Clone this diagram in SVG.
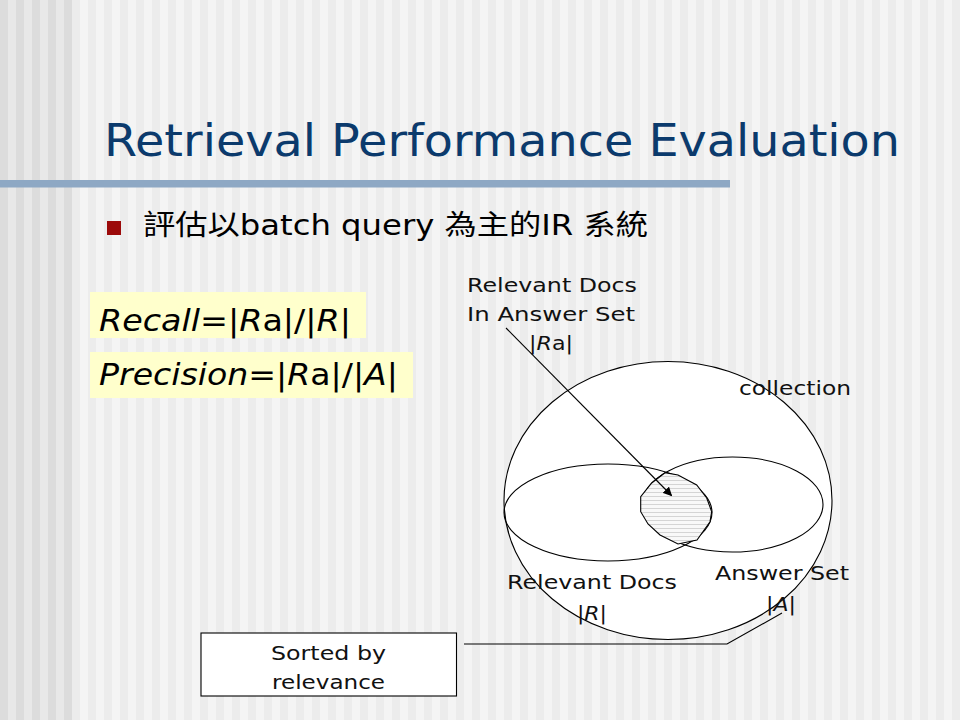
<svg xmlns="http://www.w3.org/2000/svg" width="960" height="720" viewBox="0 0 960 720">
  <defs>
    <pattern id="bgStripes" x="0" y="0" width="16" height="16" patternUnits="userSpaceOnUse">
      <rect x="0" y="0" width="8" height="16" fill="#f4f4f4"/>
      <rect x="8" y="0" width="8" height="16" fill="#ececec"/>
    </pattern>
    <pattern id="leftStripes" x="0" y="0" width="16" height="16" patternUnits="userSpaceOnUse">
      <rect x="0" y="0" width="8" height="16" fill="#dcdcdc"/>
      <rect x="8" y="0" width="8" height="16" fill="#e8e8e8"/>
    </pattern>
    <pattern id="hatch" x="0" y="0" width="6" height="4" patternUnits="userSpaceOnUse">
      <rect x="0" y="0" width="6" height="4" fill="#f8f8f8"/>
      <rect x="0" y="0" width="6" height="1" fill="#d4d4d4"/>
    </pattern>
    <marker id="arrow" viewBox="0 0 10 10" refX="9" refY="5" markerWidth="9" markerHeight="9" markerUnits="userSpaceOnUse" orient="auto">
      <path d="M0,0 L10,5 L0,10 Z" fill="#000000"/>
    </marker>
    <style>
      .sans { font-family: "DejaVu Sans", "Noto Sans CJK TC", sans-serif; }
      .label { font-family: "DejaVu Sans", sans-serif; font-size: 20px; fill: #111111; }
      .formula { font-family: "DejaVu Sans", sans-serif; font-size: 31px; fill: #000000; }
      .it { font-style: italic; }
      .shape { fill: #ffffff; stroke: #000000; stroke-width: 1.1; }
      .conn { fill: none; stroke: #000000; stroke-width: 1.1; }
    </style>
  </defs>

  <!-- background -->
  <rect x="0" y="0" width="960" height="720" fill="url(#bgStripes)"/>
  <rect x="0" y="0" width="72" height="720" fill="url(#leftStripes)"/>
  <rect x="0" y="180" width="730" height="7.5" fill="#8ea8c4"/>

  <!-- title -->
  <g id="title">
    <text class="sans" x="104" y="156" font-size="45" fill="#0b3a6c" textLength="796" lengthAdjust="spacingAndGlyphs">Retrieval Performance Evaluation</text>
  </g>

  <!-- bullet -->
  <g id="bullet">
    <rect x="107" y="221" width="14" height="14" fill="#9c0a0a"/>
    <text class="sans" x="143" y="235" font-size="28" fill="#000000" textLength="505" lengthAdjust="spacingAndGlyphs">評估以batch query 為主的IR 系統</text>
  </g>

  <!-- formulas -->
  <g id="recall">
    <rect x="90" y="292" width="276" height="46" fill="#ffffcc"/>
    <text class="formula" x="99" y="331" textLength="252" lengthAdjust="spacingAndGlyphs"><tspan class="it">Recall</tspan>=|<tspan class="it">R</tspan>a|/|<tspan class="it">R</tspan>|</text>
  </g>
  <g id="precision">
    <rect x="90" y="352" width="323" height="46" fill="#ffffcc"/>
    <text class="formula" x="99" y="385" textLength="299" lengthAdjust="spacingAndGlyphs"><tspan class="it">Precision</tspan>=|<tspan class="it">R</tspan>a|/|<tspan class="it">A</tspan>|</text>
  </g>

  <!-- collection -->
  <g id="collection">
    <ellipse class="shape" cx="668" cy="500.5" rx="164" ry="139"/>
    <text class="label" x="739" y="395" textLength="112" lengthAdjust="spacingAndGlyphs">collection</text>
  </g>

  <!-- relevant docs set -->
  <g id="relevant">
    <ellipse class="conn" cx="608" cy="512.5" rx="104" ry="48.5"/>
    <text class="label" x="507" y="589" textLength="170" lengthAdjust="spacingAndGlyphs">Relevant Docs</text>
    <text class="label" x="577" y="620" textLength="30" lengthAdjust="spacingAndGlyphs">|<tspan class="it">R</tspan>|</text>
  </g>

  <!-- answer set -->
  <g id="answer">
    <ellipse class="conn" cx="732.5" cy="504.5" rx="90.5" ry="47.5"/>
    <text class="label" x="715" y="580" textLength="134" lengthAdjust="spacingAndGlyphs">Answer Set</text>
    <text class="label" x="766" y="611" textLength="30" lengthAdjust="spacingAndGlyphs">|<tspan class="it">A</tspan>|</text>
  </g>

  <!-- intersection -->
  <g id="intersection">
    <polygon points="640.7,496.7 640.7,511.7 648,524 660,535 678,544 697,540 710,521.7 711.7,511.7 706.7,498 696.7,485 678,475 665,472.7 651.7,483" fill="url(#hatch)" stroke="#000000" stroke-width="1.1"/>
  </g>

  <!-- relevant in answer label -->
  <g id="ra-label">
    <text class="label" x="467" y="292" textLength="170" lengthAdjust="spacingAndGlyphs">Relevant Docs</text>
    <text class="label" x="467" y="321" textLength="168" lengthAdjust="spacingAndGlyphs">In Answer Set</text>
    <text class="label" x="529" y="350" textLength="44" lengthAdjust="spacingAndGlyphs">|<tspan class="it">R</tspan>a|</text>
  </g>

  <!-- sorted box -->
  <g id="sorted">
    <rect x="201" y="633" width="255.5" height="63" fill="#ffffff" stroke="#000000" stroke-width="1.1"/>
    <text class="label" x="271" y="660" textLength="115" lengthAdjust="spacingAndGlyphs">Sorted by</text>
    <text class="label" x="272" y="689" textLength="113" lengthAdjust="spacingAndGlyphs">relevance</text>
  </g>

  <!-- connectors -->
  <g id="connectors">
    <line class="conn" x1="506" y1="328" x2="671.5" y2="495.5" marker-end="url(#arrow)"/>
    <polyline class="conn" points="464,644 727,644 782,613"/>
  </g>
</svg>
